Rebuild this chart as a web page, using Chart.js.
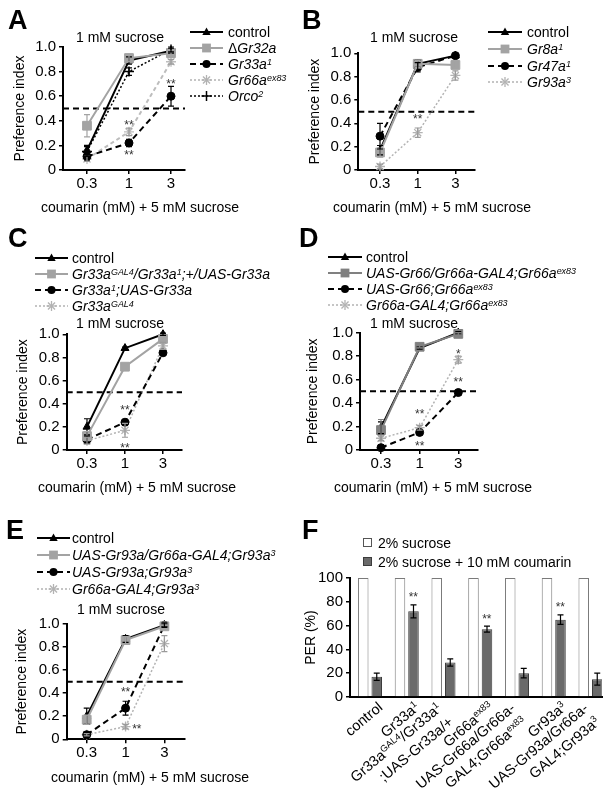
<!DOCTYPE html>
<html><head><meta charset="utf-8">
<script src="https://cdn.jsdelivr.net/npm/chart.js@4.4.1/dist/chart.umd.min.js"></script>
<style>
html,body{margin:0;padding:0;background:#fff;}
body{width:616px;height:801px;position:relative;overflow:hidden;font-family:"Liberation Sans",Arial,sans-serif;color:#000;}
canvas{position:absolute;}
.t{position:absolute;white-space:nowrap;font-size:14px;line-height:16px;}
.letter{position:absolute;font-size:27px;line-height:28px;font-weight:bold;}
.row{position:absolute;height:16px;display:flex;align-items:center;white-space:nowrap;font-size:14px;line-height:16px;}
.row svg{flex:none;display:block;}
sup{font-size:0.64em;line-height:0;position:relative;top:-0.5em;vertical-align:baseline;}
.xl{position:absolute;width:0;height:0;}
.xl div{position:absolute;right:0;top:0;transform-origin:100% 0;transform:rotate(-40deg);text-align:right;white-space:nowrap;font-size:14.5px;line-height:18px;}
.box{position:absolute;width:9px;height:9px;box-sizing:border-box;}
</style></head>
<body>
<script>
// ================= DATA =================
const doseLabels = ['0.3', '1', '3'];
const piTickValues = [0, 0.2, 0.4, 0.6, 0.8, 1.0];
const perTickValues = [0, 20, 40, 60, 80, 100];

// Panel A
const aLabels = ['control', 'Δ<i>Gr32a</i>', '<i>Gr33a<sup>1</sup></i>', '<i>Gr66a<sup>ex83</sup></i>', '<i>Orco<sup>2</sup></i>'];
const aControl = [0.16, 0.89, 0.97];
const aControlErr = [0.04, 0.03, 0.02];
const aGr32a = [0.36, 0.91, 0.95];
const aGr32aErr = [0.09, 0.03, 0.02];
const aGr33a = [0.11, 0.22, 0.60];
const aGr33aErr = [0.03, 0.03, 0.08];
const aGr66a = [0.09, 0.31, 0.88];
const aGr66aErr = [0.02, 0.03, 0.02];
const aOrco = [0.15, 0.80, 0.98];
const aOrcoErr = [0.04, 0.03, 0.02];
const aStarX = [1, 1, 2];
const aStarY = [0.39, 0.14, 0.72];
const aStarText = ['**', '**', '**'];

// Panel B
const bLabels = ['control', '<i>Gr8a<sup>1</sup></i>', '<i>Gr47a<sup>1</sup></i>', '<i>Gr93a<sup>3</sup></i>'];
const bControl = [0.17, 0.91, 0.98];
const bControlErr = [0.04, 0.03, 0.01];
const bGr8a = [0.15, 0.91, 0.90];
const bGr8aErr = [0.04, 0.03, 0.03];
const bGr47a = [0.29, 0.88, 0.98];
const bGr47aErr = [0.11, 0.04, 0.01];
const bGr93a = [0.03, 0.32, 0.81];
const bGr93aErr = [0.02, 0.04, 0.04];
const bStarX = [1];
const bStarY = [0.46];
const bStarText = ['**'];

// Panel C
const cLabels = ['control', '<i>Gr33a<sup>GAL4</sup>/Gr33a<sup>1</sup>;+/UAS-Gr33a</i>', '<i>Gr33a<sup>1</sup>;UAS-Gr33a</i>', '<i>Gr33a<sup>GAL4</sup></i>'];
const cControl = [0.20, 0.88, 1.00];
const cControlErr = [0.07, 0.01, 0.01];
const cRescue = [0.12, 0.72, 0.96];
const cRescueErr = [0.04, 0.02, 0.02];
const cUAS = [0.09, 0.24, 0.84];
const cUASErr = [0.03, 0.02, 0.02];
const cGAL4 = [0.08, 0.17, 0.90];
const cGAL4Err = [0.03, 0.06, 0.03];
const cStarX = [1, 1];
const cStarY = [0.37, 0.04];
const cStarText = ['**', '**'];

// Panel D
const dLabels = ['control', '<i>UAS-Gr66/Gr66a-GAL4;Gr66a<sup>ex83</sup></i>', '<i>UAS-Gr66;Gr66a<sup>ex83</sup></i>', '<i>Gr66a-GAL4;Gr66a<sup>ex83</sup></i>'];
const dControl = [0.19, 0.87, 1.00];
const dControlErr = [0.05, 0.01, 0.01];
const dRescue = [0.17, 0.88, 0.99];
const dRescueErr = [0.09, 0.01, 0.01];
const dUAS = [0.02, 0.15, 0.49];
const dUASErr = [0.01, 0.02, 0.02];
const dGAL4 = [0.10, 0.19, 0.77];
const dGAL4Err = [0.02, 0.02, 0.03];
const dStarX = [1, 1, 2, 2];
const dStarY = [0.33, 0.06, 0.84, 0.60];
const dStarText = ['**', '**', '*', '**'];

// Panel E
const eLabels = ['control', '<i>UAS-Gr93a/Gr66a-GAL4;Gr93a<sup>3</sup></i>', '<i>UAS-Gr93a;Gr93a<sup>3</sup></i>', '<i>Gr66a-GAL4;Gr93a<sup>3</sup></i>'];
const eControl = [0.20, 0.87, 0.99];
const eControlErr = [0.07, 0.03, 0.01];
const eRescue = [0.17, 0.86, 0.98];
const eRescueErr = [0.04, 0.03, 0.01];
const eUAS = [0.04, 0.27, 0.99];
const eUASErr = [0.01, 0.06, 0.02];
const eGAL4 = [0.04, 0.11, 0.83];
const eGAL4Err = [0.01, 0.02, 0.07];
const eStarX = [1, 1.29];
const eStarY = [0.43, 0.11];
const eStarText = ['**', '**'];

// Panel F
const fCategoryLabels = [
  ['control'],
  ['Gr33a<sup>1</sup>'],
  ['Gr33a<sup>GAL4</sup>/Gr33a<sup>1</sup>', ';UAS-Gr33a/+'],
  ['Gr66a<sup>ex83</sup>'],
  ['UAS-Gr66a/Gr66a-', 'GAL4;Gr66a<sup>ex83</sup>'],
  ['Gr93a<sup>3</sup>'],
  ['UAS-Gr93a/Gr66a-', 'GAL4;Gr93a<sup>3</sup>']
];
const fSeriesNames = ['2% sucrose', '2% sucrose + 10 mM coumarin'];
const fSucrose = [100, 100, 100, 100, 100, 100, 100];
const fCoumarin = [17, 72, 29, 57, 20, 65, 15];
const fCoumarinErr = [3, 5.5, 3, 2.5, 4, 4, 5];
const fStars = ['', '**', '', '**', '', '**', ''];

// ================= STYLES =================
Chart.defaults.font.family = '"Liberation Sans", Arial, sans-serif';
Chart.defaults.font.size = 15;
Chart.defaults.color = '#000';

const ST = {
  control: {color: '#000', dash: [], width: 2, point: 'triangle', r: 4.6, pbw: 1},
  sq:      {color: '#a3a3a3', dash: [], width: 2, point: 'rect', r: 6.2, pbw: 1},
  sqDark:  {color: '#808080', dash: [], width: 2, point: 'rect', r: 6.2, pbw: 1},
  circ:    {color: '#000', dash: [6, 4], width: 2, point: 'circle', r: 4, pbw: 1},
  star:    {color: '#b3b3b3', dash: [2, 2], width: 1.5, point: 'star', r: 5, pbw: 1.3},
  starA:   {color: '#bdbdbd', dash: [4, 3], width: 2, point: 'star', r: 5, pbw: 1.3},
  plus:    {color: '#000', dash: [2, 2], width: 1.5, point: 'cross', r: 5, pbw: 1.5}
};

// ================= PLUGINS =================
const errorBars = {
  id: 'errorBars',
  afterDatasetsDraw(chart) {
    const ctx = chart.ctx, ys = chart.scales.y;
    chart.data.datasets.forEach((ds, di) => {
      if (!ds.errs) return;
      const meta = chart.getDatasetMeta(di);
      ctx.save();
      ctx.strokeStyle = ds.errColor || ds.borderColor;
      ctx.lineWidth = 1.2;
      ctx.setLineDash([]);
      meta.data.forEach((el, i) => {
        const e = ds.errs[i];
        if (!e) return;
        const v = ds.data[i].y;
        const y1 = ys.getPixelForValue(v + e), y2 = ys.getPixelForValue(v - e);
        const x = el.x, w = ds.capW || 3;
        ctx.beginPath();
        ctx.moveTo(x, y1); ctx.lineTo(x, y2);
        ctx.moveTo(x - w, y1); ctx.lineTo(x + w, y1);
        ctx.moveTo(x - w, y2); ctx.lineTo(x + w, y2);
        ctx.stroke();
      });
      ctx.restore();
    });
  }
};
const refLine = {
  id: 'refLine',
  beforeDatasetsDraw(chart, args, o) {
    if (!o || o.value == null) return;
    const ctx = chart.ctx, y = chart.scales.y.getPixelForValue(o.value);
    const {left, right} = chart.chartArea;
    ctx.save();
    ctx.setLineDash([6, 4]);
    ctx.lineWidth = 2;
    ctx.strokeStyle = '#000';
    ctx.beginPath(); ctx.moveTo(left, y); ctx.lineTo(right, y); ctx.stroke();
    ctx.restore();
  }
};
const starLabels = {
  id: 'starLabels',
  afterDatasetsDraw(chart, args, o) {
    if (!o || !o.x) return;
    const ctx = chart.ctx, xs = chart.scales.x, ys = chart.scales.y;
    const size = o.size || 12;
    ctx.save();
    ctx.font = size + 'px "Liberation Sans", Arial, sans-serif';
    ctx.fillStyle = o.color || '#333';
    ctx.textAlign = 'center';
    ctx.textBaseline = 'alphabetic';
    o.x.forEach((xv, i) => {
      if (!o.t[i]) return;
      const px = xs.getPixelForValue(xv);
      const py = ys.getPixelForValue(o.y[i]) - (o.dy || 0);
      ctx.fillText(o.t[i], px, py + 0.55 * size);
    });
    ctx.restore();
  }
};

// ================= HELPERS =================
function addDiv(html, style, cls) {
  const d = document.createElement('div');
  d.className = cls || 't';
  d.innerHTML = html;
  Object.assign(d.style, style);
  document.body.appendChild(d);
  return d;
}
function centerText(html, cx, top) {
  addDiv(html, {left: (cx - 150) + 'px', top: top + 'px', width: '300px', textAlign: 'center'});
}
function marker(st, cx, cy) {
  const c = st.color;
  switch (st.point) {
    case 'triangle': return `<polygon points="${cx},${cy - 4.6} ${cx - 4.2},${cy + 3} ${cx + 4.2},${cy + 3}" fill="${c}"/>`;
    case 'rect': return `<rect x="${cx - 4.4}" y="${cy - 4.4}" width="8.8" height="8.8" fill="${c}"/>`;
    case 'circle': return `<circle cx="${cx}" cy="${cy}" r="4" fill="${c}"/>`;
    case 'star': {
      let s = '';
      [[0, 1], [1, 0], [0.707, 0.707], [0.707, -0.707]].forEach(([a, b]) => {
        s += `<line x1="${cx - 5 * a}" y1="${cy - 5 * b}" x2="${cx + 5 * a}" y2="${cy + 5 * b}" stroke="${c}" stroke-width="1.3"/>`;
      });
      return s;
    }
    case 'cross': return `<line x1="${cx - 5}" y1="${cy}" x2="${cx + 5}" y2="${cy}" stroke="${c}" stroke-width="1.5"/><line x1="${cx}" y1="${cy - 5}" x2="${cx}" y2="${cy + 5}" stroke="${c}" stroke-width="1.5"/>`;
  }
  return '';
}
function sample(st, w) {
  const h = 12, cy = 6;
  const dash = st.dash.length ? `stroke-dasharray="${st.dash.join(',')}"` : '';
  return `<svg width="${w}" height="${h}" viewBox="0 0 ${w} ${h}"><line x1="0" y1="${cy}" x2="${w}" y2="${cy}" stroke="${st.color}" stroke-width="${st.width}" ${dash}/>${marker(st, w / 2, cy)}</svg>`;
}
function legend(labels, styles, x, ys, sw, gap) {
  labels.forEach((lab, i) => {
    addDiv(sample(styles[i], sw) + `<span style="margin-left:${gap}px">${lab}</span>`,
      {left: x + 'px', top: (ys[i] - 8) + 'px'}, 'row');
  });
}
function ds(vals, errs, st, order) {
  return {
    data: vals.map((v, i) => ({x: i, y: v})), errs,
    borderColor: st.color, backgroundColor: st.color, borderDash: st.dash, borderWidth: st.width,
    pointStyle: st.point, pointRadius: st.r, pointBorderColor: st.color, pointBackgroundColor: st.color,
    pointBorderWidth: st.pbw, tension: 0, order, clip: false, errColor: st.color === '#b3b3b3' || st.color === '#bdbdbd' ? '#9a9a9a' : st.color
  };
}
function axisGrid() {
  return {drawOnChartArea: false, drawTicks: true, tickLength: 4, color: '#000', lineWidth: 1.5};
}
function makeCanvas(box) {
  const cv = document.createElement('canvas');
  cv.width = box[2]; cv.height = box[3];
  cv.style.left = box[0] + 'px'; cv.style.top = box[1] + 'px';
  document.body.appendChild(cv);
  return cv;
}
function linePanel(cfg) {
  const [cx, cy, cw, ch] = cfg.box;
  const [L, T, R, B] = cfg.area;
  const HX = 30;
  const cv = makeCanvas(cfg.box);
  return new Chart(cv, {
    type: 'line',
    data: {datasets: cfg.datasets},
    options: {
      responsive: false, animation: false, events: [],
      layout: {padding: {left: L - cfg.wy - cx, top: T - cy, right: cx + cw - R, bottom: cy + ch - B - HX}},
      plugins: {legend: {display: false}, tooltip: {enabled: false}, refLine: {value: 0.5}, starLabels: cfg.stars},
      scales: {
        x: {
          type: 'linear', min: cfg.xr[0], max: cfg.xr[1],
          afterBuildTicks: s => { s.ticks = doseLabels.map((_, i) => ({value: i})); },
          ticks: {callback: v => doseLabels[v], padding: 1, maxRotation: 0, autoSkip: false},
          grid: axisGrid(), border: {display: true, color: '#000', width: 2},
          afterFit: s => { s.height = HX; }
        },
        y: {
          min: 0, max: 1,
          afterBuildTicks: s => { s.ticks = piTickValues.map(v => ({value: v})); },
          ticks: {callback: v => v === 0 ? '0' : v.toFixed(1), padding: 3},
          grid: axisGrid(), border: {display: true, color: '#000', width: 2},
          title: {display: true, text: 'Preference index', padding: 0, font: {size: 14}},
          afterFit: s => { s.width = cfg.wy; }
        }
      }
    },
    plugins: [refLine, errorBars, starLabels]
  });
}

// ================= PANELS =================
// A
linePanel({
  box: [0, 0, 300, 220], area: [63, 47, 185, 170], wy: 51.4, xr: [-0.571, 2.333],
  datasets: [
    ds(aControl, aControlErr, ST.control, 1),
    ds(aGr32a, aGr32aErr, ST.sq, 0),
    ds(aGr33a, aGr33aErr, ST.circ, 2),
    ds(aGr66a, aGr66aErr, ST.starA, 3),
    ds(aOrco, aOrcoErr, ST.plus, 2)
  ],
  stars: {x: aStarX, y: aStarY, t: aStarText}
});
// B
linePanel({
  box: [300, 0, 316, 220], area: [358.3, 53.3, 475, 170], wy: 51.4, xr: [-0.576, 2.52],
  datasets: [
    ds(bControl, bControlErr, ST.control, 1),
    ds(bGr8a, bGr8aErr, ST.sq, 0),
    ds(bGr47a, bGr47aErr, ST.circ, 2),
    ds(bGr93a, bGr93aErr, ST.star, 3)
  ],
  stars: {x: bStarX, y: bStarY, t: bStarText}
});
// C
linePanel({
  box: [0, 220, 300, 280], area: [66.7, 334.3, 182, 450], wy: 52.4, xr: [-0.534, 2.5],
  datasets: [
    ds(cControl, cControlErr, ST.control, 1),
    ds(cRescue, cRescueErr, ST.sq, 0),
    ds(cUAS, cUASErr, ST.circ, 2),
    ds(cGAL4, cGAL4Err, ST.star, 3)
  ],
  stars: {x: cStarX, y: cStarY, t: cStarText}
});
// D
linePanel({
  box: [300, 220, 316, 280], area: [360, 332.7, 478, 450], wy: 55.4, xr: [-0.543, 2.51],
  datasets: [
    ds(dControl, dControlErr, ST.control, 1),
    ds(dRescue, dRescueErr, ST.sqDark, 0),
    ds(dUAS, dUASErr, ST.circ, 2),
    ds(dGAL4, dGAL4Err, ST.star, 3)
  ],
  stars: {x: dStarX, y: dStarY, t: dStarText}
});
// E
linePanel({
  box: [0, 500, 300, 301], area: [66.7, 624, 185, 739.3], wy: 53.4, xr: [-0.515, 2.53],
  datasets: [
    ds(eControl, eControlErr, ST.control, 1),
    ds(eRescue, eRescueErr, ST.sq, 0),
    ds(eUAS, eUASErr, ST.circ, 2),
    ds(eGAL4, eGAL4Err, ST.star, 3)
  ],
  stars: {x: eStarX, y: eStarY, t: eStarText}
});

// F
const fBox = [300, 500, 316, 301], fArea = [350, 578, 602, 697], fWy = 47.4, fHX = 30;
const fChart = new Chart(makeCanvas(fBox), {
  type: 'bar',
  data: {
    datasets: [
      {label: fSeriesNames[0], data: fSucrose.map((v, i) => ({x: i, y: v})), backgroundColor: '#ffffff',
       borderColor: '#7a7a7a', borderWidth: 1, categoryPercentage: 0.735, barPercentage: 0.78},
      {label: fSeriesNames[1], data: fCoumarin.map((v, i) => ({x: i, y: v})), errs: fCoumarinErr, errColor: '#000', capW: 3,
       backgroundColor: '#6a6a6a', borderColor: '#3c3c3c', borderWidth: 1, categoryPercentage: 0.735, barPercentage: 0.78}
    ]
  },
  options: {
    responsive: false, animation: false, events: [],
    layout: {padding: {left: fArea[0] - fWy - fBox[0], top: fArea[1] - fBox[1], right: fBox[0] + fBox[2] - fArea[2], bottom: fBox[1] + fBox[3] - fArea[3] - fHX}},
    plugins: {legend: {display: false}, tooltip: {enabled: false},
      starLabels: {x: fCoumarin.map((_, i) => i + 0.18), y: fCoumarin.map((v, i) => v + fCoumarinErr[i]), dy: 10, t: fStars}},
    scales: {
      x: {
        type: 'linear', min: -0.544, max: 6.313, offset: false,
        afterBuildTicks: s => { s.ticks = fCategoryLabels.map((_, i) => ({value: i})); },
        ticks: {display: false}, grid: {display: false, offset: false},
        border: {display: true, color: '#000', width: 2},
        afterFit: s => { s.height = fHX; }
      },
      y: {
        min: 0, max: 100,
        afterBuildTicks: s => { s.ticks = perTickValues.map(v => ({value: v})); },
        ticks: {padding: 3},
        grid: axisGrid(), border: {display: true, color: '#000', width: 2},
        title: {display: true, text: 'PER (%)', padding: 0, font: {size: 14}},
        afterFit: s => { s.width = fWy; }
      }
    }
  },
  plugins: [errorBars, starLabels]
});
// F category labels (rotated), placed from the chart's own x scale
(function () {
  const xs = fChart.scales.x, ca = fChart.chartArea;
  fCategoryLabels.forEach((lines, i) => {
    const px = fBox[0] + xs.getPixelForValue(i);
    const two = lines.length > 1;
    const w = document.createElement('div');
    w.className = 'xl';
    w.style.left = (px + (two ? -10 : 5)) + 'px';
    w.style.top = (fBox[1] + ca.bottom + (two ? 2 : 1)) + 'px';
    w.innerHTML = '<div>' + lines.join('<br>') + '</div>';
    document.body.appendChild(w);
  });
})();

// ================= TEXT (letters, titles, legends) =================
addDiv('A', {left: '8px', top: '6px'}, 'letter');
addDiv('B', {left: '302px', top: '6px'}, 'letter');
addDiv('C', {left: '8px', top: '224px'}, 'letter');
addDiv('D', {left: '299px', top: '224px'}, 'letter');
addDiv('E', {left: '6px', top: '516px'}, 'letter');
addDiv('F', {left: '302px', top: '516px'}, 'letter');

centerText('1 mM sucrose', 120, 29);
centerText('1 mM sucrose', 414, 29);
centerText('1 mM sucrose', 120, 315);
centerText('1 mM sucrose', 414, 315);
centerText('1 mM sucrose', 121, 601);

centerText('coumarin (mM) + 5 mM sucrose', 140, 199);
centerText('coumarin (mM) + 5 mM sucrose', 432, 199);
centerText('coumarin (mM) + 5 mM sucrose', 137, 479);
centerText('coumarin (mM) + 5 mM sucrose', 433, 479);
centerText('coumarin (mM) + 5 mM sucrose', 150, 769);

legend(aLabels, [ST.control, ST.sq, ST.circ, ST.star, ST.plus], 190, [32, 48, 64, 80, 96], 33, 5);
legend(bLabels, [ST.control, ST.sq, ST.circ, ST.star], 488, [32, 49, 66, 82], 34, 5);
legend(cLabels, [ST.control, ST.sq, ST.circ, ST.star], 35, [258, 274, 290, 306], 33, 4);
legend(dLabels, [ST.control, ST.sqDark, ST.circ, ST.star], 328, [257, 273, 289, 305], 34, 4);
legend(eLabels, [ST.control, ST.sq, ST.circ, ST.star], 37, [538, 555, 572, 589], 33, 2);

// F legend
addDiv('', {left: '363px', top: '538px', border: '1px solid #555', background: '#fff'}, 'box');
addDiv('', {left: '363px', top: '557px', border: '1px solid #3c3c3c', background: '#6a6a6a'}, 'box');
addDiv(fSeriesNames[0], {left: '378px', top: '535px'});
addDiv(fSeriesNames[1], {left: '378px', top: '554px'});
</script>
</body></html>
